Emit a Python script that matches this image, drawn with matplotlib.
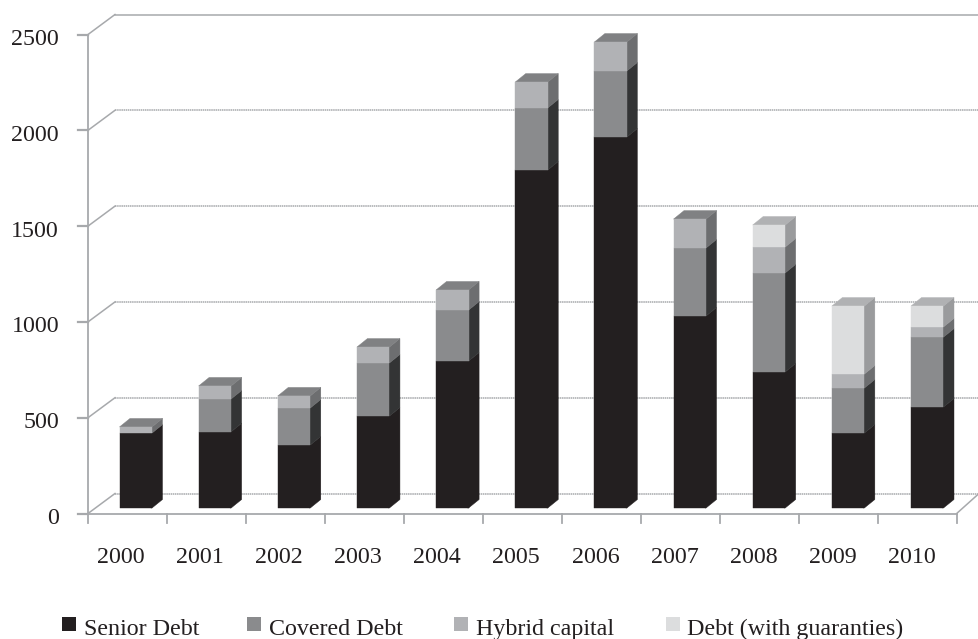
import matplotlib
matplotlib.use("Agg")
import matplotlib.pyplot as plt
from matplotlib.patches import Polygon, Rectangle

years = ["2000", "2001", "2002", "2003", "2004", "2005", "2006", "2007", "2008", "2009", "2010"]
senior = [391, 398, 329, 480, 767, 1764, 1936, 1002, 710, 391, 527]
covered = [0, 171, 193, 277, 266, 324, 345, 355, 517, 235, 365]
hybrid = [32, 68, 63, 83, 105, 135, 151, 151, 135, 73, 53]
guaranties = [0, 0, 0, 0, 0, 0, 0, 0, 115, 355, 109]
y_ticks = [0, 500, 1000, 1500, 2000, 2500]

names = ["Senior Debt", "Covered Debt", "Hybrid capital", "Debt (with guaranties)"]
front_cols = ["#231f20", "#8a8b8d", "#b1b2b5", "#dcddde"]
side_cols = ["#231f20", "#333435", "#6d6e70", "#9a9b9d"]
top_cols = ["#4a4a4b", "#6d6e70", "#808183", "#b0b1b3"]
grid_col = "#a7a9ac"
text_col = "#231f20"

W, H = 979, 639
slot = 78.97    # px per category
px_y = 0.1916   # px per unit
x0_px, y0_px = 88, 513.5


def xd(p):
    return p / slot


def yd(p):
    return p / px_y


def xpx(p):
    return xd(p - x0_px)


def ypx(p):
    return yd(y0_px - p)


plt.rcParams["font.family"] = ["Liberation Serif", "DejaVu Serif"]

fig = plt.figure(figsize=(W / 100, H / 100), dpi=100)
ax = fig.add_axes([0, 0, 1, 1])
ax.set_xlim(xpx(0), xpx(W))
ax.set_ylim(ypx(H), ypx(0))
ax.axis("off")

# back wall offset and bar geometry
wall_dx, wall_dy = xd(27), yd(20)
bar_w, bar_dx, bar_dy = xd(32.5), xd(10.5), yd(8.5)
bar_step, bar_left = xd(79.15), xd(119.5 - x0_px)
bar_base = yd(5.5)
n = len(years)

# gridlines and the oblique bits joining them to the axis
for v in y_ticks:
    style = "-" if v == 2500 else (0, (1, 0.4))
    ax.plot([wall_dx, xpx(W)], [v + wall_dy, v + wall_dy], color=grid_col, lw=1.1, ls=style, zorder=1)
    ax.plot([0, wall_dx], [v, v + wall_dy], color=grid_col, lw=1.1, zorder=1)
    ax.plot([-xd(10), 0], [v, v], color=grid_col, lw=1.6, zorder=1)
ax.plot([0, 0], [0, 2500], color=grid_col, lw=1.3, zorder=1)
ax.plot([0, n], [0, 0], color=grid_col, lw=1.3, zorder=1)
ax.plot([n, xpx(W)], [0, wall_dy], color=grid_col, lw=1.1, zorder=1)
for i in range(n + 1):
    ax.plot([i, i], [0, -yd(9)], color=grid_col, lw=1.3, zorder=1)

# stacked oblique bars
for i in range(n):
    left = bar_left + i * bar_step
    right = left + bar_w
    bottom = bar_base
    last = None
    for k, series in enumerate([senior, covered, hybrid, guaranties]):
        val = series[i]
        if val == 0:
            continue
        top = bottom + val
        # side face reaches under the front face so no seam shows between them
        ax.add_patch(Polygon([(right - xd(1), bottom), (right, bottom), (right + bar_dx, bottom + bar_dy),
                              (right + bar_dx, top + bar_dy), (right, top), (right - xd(1), top)],
                             fc=side_cols[k], ec=side_cols[k], lw=0.3, zorder=3))
        ax.add_patch(Rectangle((left, bottom), bar_w, val, fc=front_cols[k], ec=front_cols[k], lw=0.3, zorder=4))
        bottom = top
        last = k
    ax.add_patch(Polygon([(left, bottom), (left + bar_dx, bottom + bar_dy),
                          (right + bar_dx, bottom + bar_dy), (right, bottom)],
                         fc=top_cols[last], ec=top_cols[last], lw=0.3, zorder=3))

for v in y_ticks:
    ax.text(xpx(59), v - yd(10.5), str(v), ha="right", va="baseline", fontsize=17.3, color=text_col)
for i, yr in enumerate(years):
    ax.text(xpx(120.5) + i * xd(79.15), ypx(563), yr, ha="center", va="baseline", fontsize=17.3, color=text_col)

# legend, placed by hand so the spacing between entries stays uneven
legend_sq = [62, 247, 454, 666]
legend_tx = [84, 269, 476, 687]
for k, name in enumerate(names):
    ax.add_patch(Rectangle((xpx(legend_sq[k]), ypx(631)), xd(14), yd(14), fc=front_cols[k], ec="none"))
    ax.text(xpx(legend_tx[k]), ypx(635), name, ha="left", va="baseline", fontsize=17.3, color=text_col)

fig.savefig("out.png", dpi=100)
